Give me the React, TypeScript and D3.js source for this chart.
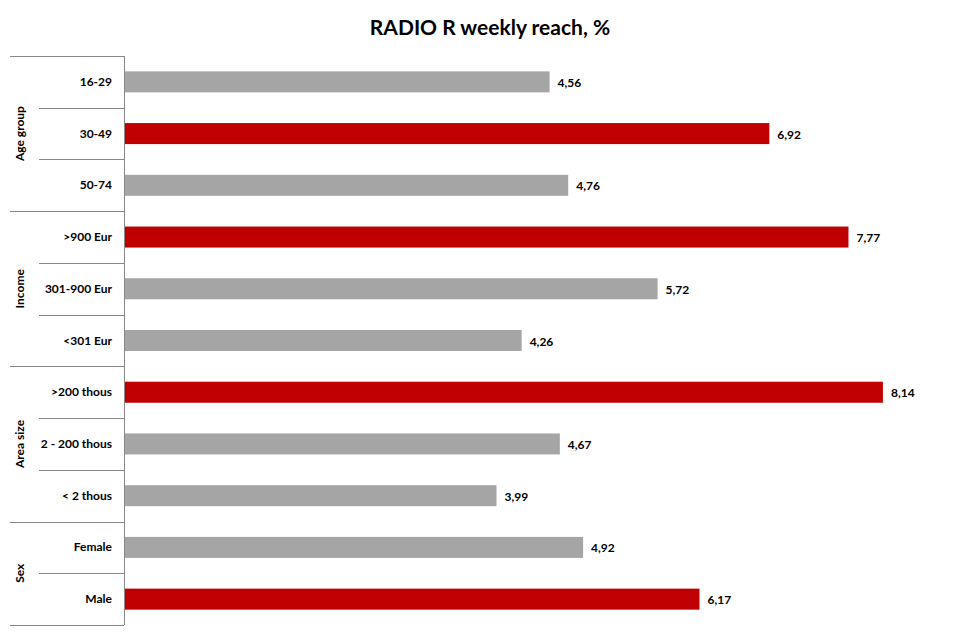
import React from "react";
import * as d3 from "d3";

const categories = ["16-29", "30-49", "50-74", ">900 Eur", "301-900 Eur", "<301 Eur", ">200 thous", "2 - 200 thous", "< 2 thous", "Female", "Male"];
const values = [4.56, 6.92, 4.76, 7.77, 5.72, 4.26, 8.14, 4.67, 3.99, 4.92, 6.17];
const highlighted = [false, true, false, true, false, false, true, false, false, false, true];
const groups = ["Age group", "Income", "Area size", "Sex"];
const groupSizes = [3, 3, 3, 2];

const W = 980, H = 641;
const FONT = "Lato, 'Open Sans', sans-serif";

export default function App() {
  const top = 56, bottom = 625, axisX = 124;
  const x = d3.scaleLinear().domain([0, 9]).range([axisX + 1, 963]);
  const y = d3.scaleBand<number>().domain(d3.range(categories.length)).range([top, bottom]).paddingInner(0.6).paddingOuter(0.3);
  const step = y.step();
  const rowTop = (i: number) => top + i * ((bottom - top) / categories.length);
  const rowH = (bottom - top) / categories.length;

  let acc = 0;
  const groupInfo = groups.map((g, gi) => {
    const start = acc;
    acc += groupSizes[gi];
    return { name: g, start, end: acc };
  });
  const groupStarts = new Set(groupInfo.map(g => g.start));

  return (
    <svg width={W} height={H} style={{ position: "absolute", left: 0, top: 0, background: "#fff" }}>
      <text x={490} y={35} textAnchor="middle" fontFamily={FONT} fontWeight="bold" fontSize={21} fill="#000">
        RADIO R weekly reach, %
      </text>
      {/* bars */}
      {values.map((v, i) => {
        const cy = rowTop(i) + rowH / 2;
        const bh = 21;
        return (
          <g key={i}>
            <rect x={x(0)} y={cy - bh / 2} width={x(v) - x(0)} height={bh} fill={highlighted[i] ? "#C00000" : "#A5A5A5"} />
            <text x={x(v) + 8} y={cy + 5} fontFamily={FONT} fontWeight="bold" fontSize={12} fill="#000">
              {d3.format(".2f")(v).replace(".", ",")}
            </text>
            <text x={112} y={cy + 4} textAnchor="end" fontFamily={FONT} fontWeight="bold" fontSize={12} fill="#000">
              {categories[i]}
            </text>
          </g>
        );
      })}
      {/* axis line */}
      <line x1={axisX + 0.5} x2={axisX + 0.5} y1={top} y2={bottom} stroke="#888" strokeWidth={1} />
      {/* row separators */}
      {d3.range(categories.length + 1).map(i => {
        const yy = Math.round(rowTop(i)) + 0.5;
        const long = groupStarts.has(i) || i === categories.length;
        return <line key={"s" + i} x1={long ? 10 : 39} x2={axisX} y1={yy} y2={yy} stroke="#888" strokeWidth={1} />;
      })}
      {/* group labels */}
      {groupInfo.map((g, gi) => {
        const cy = rowTop(g.start) + (g.end - g.start) * rowH / 2;
        return (
          <text key={"g" + gi} transform={`translate(24,${cy}) rotate(-90)`} textAnchor="middle" fontFamily={FONT} fontWeight="bold" fontSize={12} fill="#000">
            {g.name}
          </text>
        );
      })}
    </svg>
  );
}
